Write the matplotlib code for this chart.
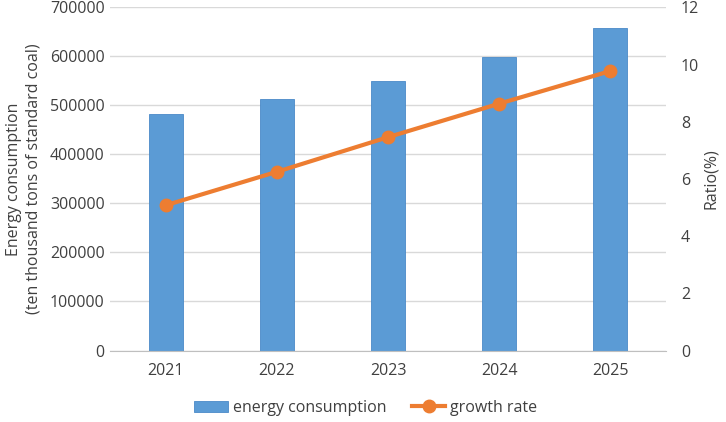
import numpy as np
import matplotlib.pyplot as plt

plt.rcParams['font.family'] = ['Open Sans', 'DejaVu Sans']

years = ['2021', '2022', '2023', '2024', '2025']
energy = [482000, 513000, 550000, 599000, 658000]
growth = [5.08, 6.25, 7.46, 8.63, 9.77]

blue = '#5B9BD5'
orange = '#ED7D31'
text_col = '#404040'

fig = plt.figure(figsize=(7.26, 4.22), dpi=100)
ax = fig.add_axes([0.152, 0.1694, 0.765, 0.8133])
x = np.arange(len(years))

bars = ax.bar(x, energy, width=0.31, color=blue, edgecolor='#4a8ac8', linewidth=0.6,
              label='energy consumption', zorder=2)
ax.set_ylim(0, 700000)
ax.set_xlim(-0.5, len(years) - 0.5)
ax.set_yticks(np.arange(0, 700001, 100000))
ax.yaxis.grid(True, color='#d9d9d9', linewidth=1.0, zorder=0)
ax.set_axisbelow(True)
for s in ['top', 'right', 'left']:
    ax.spines[s].set_visible(False)
ax.spines['bottom'].set_color('#bfbfbf')
ax.set_xticks(x)
ax.set_xticklabels(years)
ax.tick_params(axis='both', length=0, labelsize=11.5, colors=text_col)
ax.tick_params(axis='x', pad=9)
ax.tick_params(axis='y', pad=4)
ax.set_ylabel('Energy consumption\n(ten thousand tons of standard coal)', fontsize=11.5,
              color=text_col, labelpad=6, linespacing=1.3)

ax2 = ax.twinx()
line, = ax2.plot(x, growth, color=orange, linewidth=3, marker='o', markersize=9,
                 label='growth rate', zorder=3)
ax2.set_ylim(0, 12)
ax2.set_yticks(np.arange(0, 13, 2))
for s in ax2.spines.values():
    s.set_visible(False)
ax2.tick_params(axis='y', length=0, labelsize=11.5, colors=text_col, pad=11)
ax2.set_ylabel('Ratio(%)', fontsize=11.5, color=text_col, labelpad=3)

fig.legend([bars, line], ['energy consumption', 'growth rate'], loc='center',
           bbox_to_anchor=(0.504, 0.033), ncol=2, frameon=False, fontsize=11.5,
           handlelength=2.1, handletextpad=0.3, columnspacing=1.6,
           labelcolor=text_col)

fig.savefig('out.png', dpi=100)
